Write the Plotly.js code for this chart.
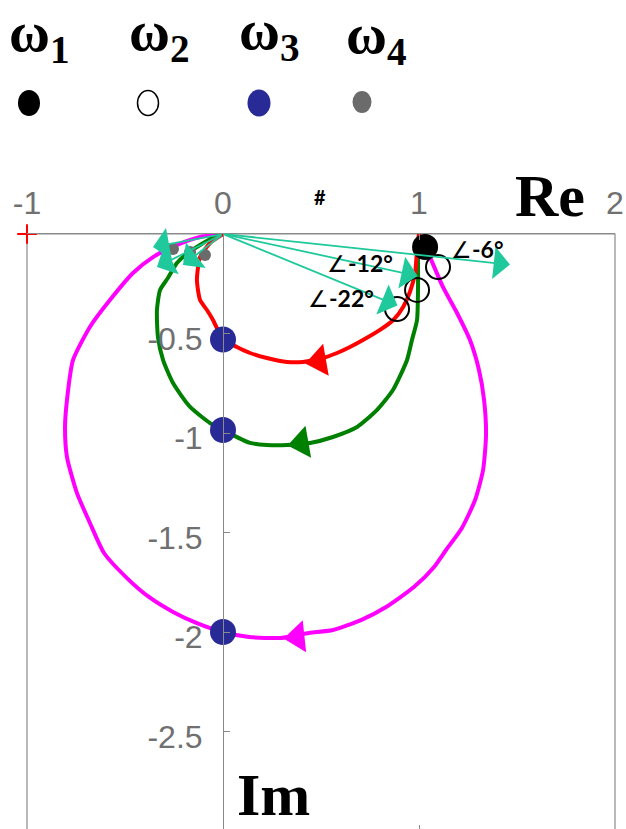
<!DOCTYPE html>
<html>
<head>
<meta charset="utf-8">
<script src="https://cdn.plot.ly/plotly-3.0.1.min.js"></script>
<style>
  html, body { margin: 0; padding: 0; overflow: hidden; background: #fff; }
  #plot { width: 626px; height: 840px; }
</style>
</head>
<body>
<div id="plot"></div>
<script>
// Nyquist loci of three loop gains (Re on x, Im on y)
const redX = [1.0, 0.988, 0.980, 0.954, 0.920, 0.869, 0.801, 0.714, 0.648, 0.582, 0.510, 0.408, 0.327, 0.224, 0.138, 0.071, 0.0, -0.051, -0.082, -0.117, -0.133, -0.117, -0.066, 0.0];
const redY = [0.0, -0.106, -0.197, -0.290, -0.365, -0.432, -0.482, -0.533, -0.568, -0.598, -0.623, -0.643, -0.643, -0.623, -0.598, -0.568, -0.530, -0.432, -0.382, -0.332, -0.231, -0.116, -0.045, 0.0];

const greenX = [1.0, 0.995, 0.995, 0.990, 0.964, 0.939, 0.867, 0.786, 0.684, 0.561, 0.444, 0.327, 0.224, 0.138, 0.0, -0.066, -0.168, -0.255, -0.306, -0.332, -0.337, -0.321, -0.281, -0.235, -0.179, -0.117, -0.056, 0.0];
const greenY = [0.0, -0.116, -0.266, -0.432, -0.533, -0.633, -0.784, -0.884, -0.970, -1.020, -1.050, -1.060, -1.060, -1.050, -0.985, -0.950, -0.869, -0.749, -0.633, -0.518, -0.382, -0.281, -0.221, -0.146, -0.095, -0.055, -0.020, 0.0];

const magX = [1.0, 1.056, 1.122, 1.194, 1.260, 1.306, 1.332, 1.342, 1.327, 1.286, 1.219, 1.138, 1.077, 0.974, 0.832, 0.704, 0.561, 0.439, 0.296, 0.133, 0.0, -0.133, -0.255, -0.378, -0.490, -0.607, -0.679, -0.745, -0.796, -0.806, -0.796, -0.765, -0.679, -0.577, -0.459, -0.357, -0.235, -0.117, 0.0];
const magY = [0.0, -0.116, -0.266, -0.397, -0.533, -0.683, -0.834, -1.010, -1.186, -1.337, -1.477, -1.588, -1.673, -1.774, -1.874, -1.940, -1.990, -2.005, -2.030, -2.025, -2.0, -1.955, -1.899, -1.824, -1.729, -1.603, -1.452, -1.302, -1.121, -0.970, -0.834, -0.633, -0.467, -0.332, -0.196, -0.116, -0.055, -0.015, 0.0];

// direction-of-travel arrowheads on each locus
const dirX = [0.49, 0.40, 0.38];
const dirY = [-0.638, -1.05, -2.025];
const dirAngle = [-10, -10, -6];
const dirColor = ['#ff0000', '#008000', '#ff00ff'];

// frequency markers
const w1X = [1.031];
const w1Y = [-0.065];
const w2X = [1.097, 0.990, 0.888];
const w2Y = [-0.166, -0.281, -0.377];
const w3X = [0.0, 0.0, 0.0];
const w3Y = [-0.53, -0.985, -2.0];
const w4X = [-0.255, -0.168, -0.092];
const w4Y = [-0.075, -0.090, -0.106];

// phasor arrows from the origin (right side: magnitude and phase in degrees)
const phasorMag = [1.472, 1.015, 0.96];
const phasorDeg = [-6, -12, -22];
const phasorLabel = ['∠<b>-6°</b>', '∠<b>-12°</b>', '∠<b>-22°</b>'];
const phasorLabelX = [1.296, 0.699, 0.602];
const phasorLabelY = [-0.075, -0.146, -0.322];
// phasor arrows on the left side (tip coordinates)
const leftTipX = [-0.357, -0.337, -0.204];
const leftTipY = [-0.065, -0.166, -0.156];

// axes ticks
const xTicks = [-1, 0, 1, 2];
const xTickText = ['-1', '0', '1', '2'];
const yTicks = [-2.5, -2, -1.5, -1, -0.5];
const yTickText = ['-2.5', '-2', '-1.5', '-1', '-0.5'];

// legend entries
const legendLabels = ['ω<sub>1</sub>', 'ω<sub>2</sub>', 'ω<sub>3</sub>', 'ω<sub>4</sub>'];

const TEAL = '#1fc99c';
const GREY = '#707070';
const AXIS = '#8a8a8a';

const traces = [
  { x: magX, y: magY, mode: 'lines', line: { color: '#ff00ff', width: 4, shape: 'spline', smoothing: 0.6 }, hoverinfo: 'skip' },
  { x: greenX, y: greenY, mode: 'lines', line: { color: '#008000', width: 4, shape: 'spline', smoothing: 0.6 }, hoverinfo: 'skip' },
  { x: redX, y: redY, mode: 'lines', line: { color: '#ff0000', width: 4, shape: 'spline', smoothing: 0.6 }, hoverinfo: 'skip' },
  { x: dirX, y: dirY, mode: 'markers',
    marker: { symbol: 'triangle-left', size: 28, color: dirColor, angle: dirAngle, line: { width: 0 } } },
  { x: [-1], y: [0], mode: 'markers', cliponaxis: false,
    marker: { symbol: 'cross-thin-open', size: 14, color: '#ff0000', line: { color: '#ff0000', width: 2 } } },
  { x: w4X, y: w4Y, mode: 'markers', marker: { size: 12, color: '#6b6b6b' } },
  { x: w3X, y: w3Y, mode: 'markers', cliponaxis: false, marker: { size: 26, color: '#282a96' } },
  { x: w2X, y: w2Y, mode: 'markers', marker: { symbol: 'circle-open', size: 24, color: '#000', line: { width: 2, color: '#000' } } },
  { x: w1X, y: w1Y, mode: 'markers', cliponaxis: false, marker: { size: 26, color: '#000' } }
];

const annotations = [];
// right-hand phasors
for (let i = 0; i < phasorMag.length; i++) {
  const a = phasorDeg[i] * Math.PI / 180;
  annotations.push({
    x: phasorMag[i] * Math.cos(a), y: phasorMag[i] * Math.sin(a),
    ax: 0, ay: 0, xref: 'x', yref: 'y', axref: 'x', ayref: 'y',
    showarrow: true, arrowhead: 1, arrowsize: 3, arrowwidth: 1.8, arrowcolor: TEAL, text: ''
  });
  annotations.push({
    x: phasorLabelX[i], y: phasorLabelY[i], xref: 'x', yref: 'y', showarrow: false,
    xanchor: 'center', yanchor: 'middle',
    text: phasorLabel[i], font: { family: 'Lato, "Noto Sans", sans-serif', size: 23, color: '#000' }
  });
}
// left-hand phasors
for (let i = 0; i < leftTipX.length; i++) {
  annotations.push({
    x: leftTipX[i], y: leftTipY[i], ax: 0, ay: 0, xref: 'x', yref: 'y', axref: 'x', ayref: 'y',
    showarrow: true, arrowhead: 1, arrowsize: 3, arrowwidth: 1.8, arrowcolor: TEAL, text: ''
  });
}

// plot area: x 27..615 px, y 234..831 px
const px = v => (v - 27) / 588;
const py = v => (831 - v) / 597;

const serif = '"Liberation Serif", "Times New Roman", serif';
annotations.push({ x: px(550), y: py(196), xref: 'paper', yref: 'paper', showarrow: false,
  xanchor: 'center', yanchor: 'middle',
  text: 'Re', font: { family: serif, size: 60, color: '#000', weight: 700 } });
annotations.push({ x: 0.26, y: -2.82, xref: 'x', yref: 'y', showarrow: false,
  xanchor: 'center', yanchor: 'middle',
  text: 'Im', font: { family: serif, size: 60, color: '#000', weight: 700 } });
annotations.push({ x: 0.495, y: py(197), xref: 'x', yref: 'paper', showarrow: false,
  xanchor: 'center', yanchor: 'middle',
  text: '#', font: { family: 'Lato, sans-serif', size: 20, color: '#000', weight: 700 } });

const legendTextX = [8, 128, 238, 345];
const legendTextY = [36, 35, 34, 38];
for (let i = 0; i < legendLabels.length; i++) {
  annotations.push({ x: px(legendTextX[i]), y: py(legendTextY[i]), xref: 'paper', yref: 'paper',
    xanchor: 'left', yanchor: 'middle', showarrow: false, borderpad: 0,
    text: legendLabels[i], font: { family: serif, size: 56, color: '#000', weight: 700 } });
}

// legend symbols
const legendSym = [
  { cx: 29, cy: 103, w: 22, h: 26, fill: '#000', line: '#000', lw: 0 },
  { cx: 148, cy: 103, w: 21, h: 25, fill: 'rgba(0,0,0,0)', line: '#000', lw: 1.5 },
  { cx: 259, cy: 103, w: 23, h: 27, fill: '#282a96', line: '#282a96', lw: 0 },
  { cx: 362, cy: 102, w: 19, h: 22, fill: '#6b6b6b', line: '#6b6b6b', lw: 0 }
];
const shapes = legendSym.map(s => ({
  type: 'circle', xref: 'paper', yref: 'paper', xsizemode: 'pixel', ysizemode: 'pixel',
  xanchor: px(s.cx), yanchor: py(s.cy), x0: -s.w / 2, x1: s.w / 2, y0: -s.h / 2, y1: s.h / 2,
  fillcolor: s.fill, line: { color: s.line, width: s.lw }
}));
// frame
shapes.push({ type: 'rect', xref: 'paper', yref: 'paper', x0: 0, x1: 1, y0: 0, y1: 1,
  line: { color: AXIS, width: 1.2 }, layer: 'below' });

const tickFont = { family: '"Liberation Sans", Arial, sans-serif', size: 32, color: GREY };

const layout = {
  width: 626, height: 840,
  margin: { l: 27, r: 11, t: 234, b: 9 },
  paper_bgcolor: '#fff', plot_bgcolor: '#fff',
  showlegend: false,
  xaxis: {
    range: [-1, 2], side: 'top', tickvals: xTicks, ticktext: xTickText, ticks: 'inside', ticklen: 6, tickcolor: AXIS,
    showline: true, linecolor: AXIS, mirror: 'ticks', zeroline: false, showgrid: false,
    tickfont: tickFont, ticklabelstandoff: 6, fixedrange: true
  },
  yaxis: {
    range: [-3, 0], anchor: 'free', position: 1 / 3, tickvals: yTicks, ticktext: yTickText,
    ticks: 'inside', ticklen: 6, tickcolor: AXIS, showline: true, linecolor: AXIS, linewidth: 1.2,
    zeroline: false, showgrid: false, tickfont: tickFont, ticklabelstandoff: 14,
    ticklabelshift: 5, fixedrange: true
  },
  shapes: shapes,
  annotations: annotations
};

Plotly.newPlot('plot', traces, layout, { displayModeBar: false, staticPlot: true });
</script>
</body>
</html>
